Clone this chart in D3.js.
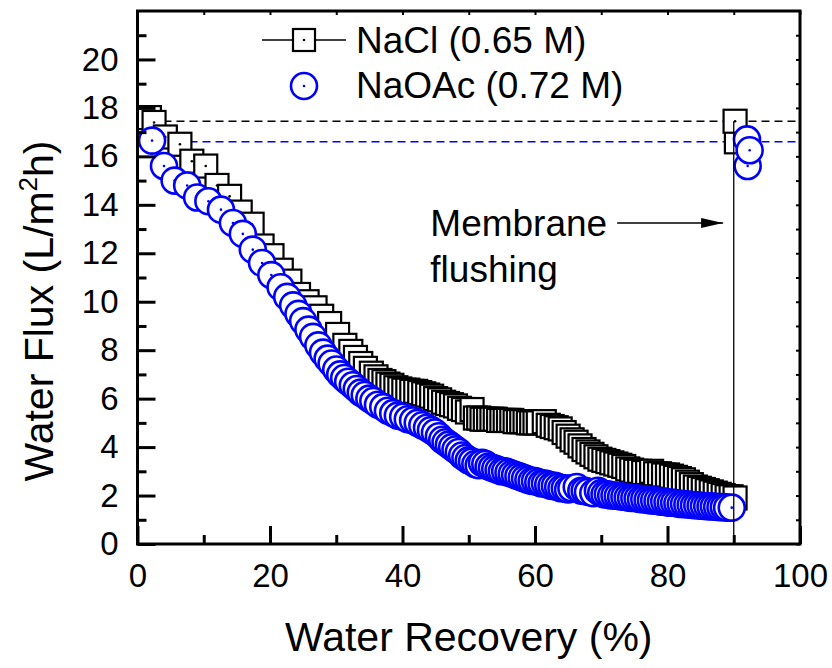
<!DOCTYPE html>
<html>
<head>
<meta charset="utf-8">
<script src="https://cdn.jsdelivr.net/npm/d3@7/dist/d3.min.js"></script>
<style>
  html, body { margin: 0; padding: 0; background: #fff; }
  svg { display: block; }
  text { font-family: "Liberation Sans", Arial, Helvetica, sans-serif; fill: #000; }
</style>
</head>
<body>
<svg id="chart" width="832" height="668"></svg>
<script>
// ---------------- data ----------------
const seriesNames = ["NaCl (0.65 M)", "NaOAc (0.72 M)"];

// NaCl draw solution: [water recovery %, water flux L/m2h]
const naclRecovery = [1.8,2.5,4.2,6.4,8.2,10.3,12.0,13.9,15.5,17.3,18.8,20.3,21.7,23.0,24.3,25.6,26.8,27.8,29.0,30.2,31.3,32.2,32.9,33.7,34.4,35.3,36.0,36.6,37.2,37.8,38.4,39.0,39.6,40.2,40.8,41.4,42.0,42.6,43.2,43.8,44.4,45.0,45.6,46.2,46.8,47.4,48.0,48.6,49.2,49.8,50.5,51.0,51.5,52.0,52.5,53.0,53.5,54.0,54.5,55.0,55.5,56.0,56.5,57.0,57.5,58.0,58.5,59.0,59.5,60.0,60.5,61.4,62.0,62.6,63.2,63.8,64.4,65.0,65.6,66.2,66.8,67.4,68.0,68.6,69.2,69.8,70.4,71.0,71.6,72.2,72.8,73.4,74.0,74.6,75.2,75.8,76.4,77.0,77.6,78.2,78.8,79.4,80.0,80.6,81.2,81.8,82.4,83.0,83.6,84.2,84.8,85.4,86.0,86.6,87.2,87.8,88.4,89.0,89.6,90.2];
const naclFlux = [17.6,17.4,16.8,16.5,15.8,15.6,14.8,14.35,13.7,13.2,12.3,11.9,11.3,10.85,10.3,10.0,9.75,9.4,9.1,8.65,8.2,7.95,7.7,7.45,7.25,7.05,6.9,6.75,6.7,6.6,6.55,6.45,6.4,6.35,6.35,6.3,6.3,6.25,6.2,6.15,6.1,6.0,5.95,5.85,5.8,5.75,5.7,5.6,5.55,5.45,5.55,5.2,5.2,5.15,5.15,5.15,5.15,5.15,5.1,5.1,5.1,5.1,5.1,5.05,5.05,5.05,5.05,5.0,5.0,5.0,5.0,5.05,4.9,4.85,4.8,4.75,4.6,4.45,4.3,4.2,4.05,3.9,3.8,3.7,3.6,3.5,3.45,3.4,3.35,3.3,3.25,3.2,3.1,3.05,3.0,3.0,2.95,2.95,3.0,2.9,2.9,2.85,2.85,2.8,2.75,2.7,2.65,2.55,2.45,2.35,2.3,2.25,2.2,2.15,2.1,2.05,2.0,1.95,1.95,1.9];
// NaCl after membrane flushing
const naclFlushRecovery = [90.4, 90.2];
const naclFlushFlux = [16.6, 17.45];

// NaOAc draw solution
const naoacRecovery = [2.2,4.0,5.6,7.5,9.0,10.7,12.6,14.4,15.9,17.4,18.8,20.2,21.6,22.6,23.5,24.3,25.0,25.8,26.5,27.3,28.0,28.7,29.3,30.0,30.6,31.2,31.8,32.5,33.1,33.7,34.3,35.0,35.6,36.3,37.1,37.8,38.6,39.3,40.1,40.8,41.6,42.3,43.0,43.7,44.3,44.9,45.5,46.0,46.5,47.0,47.5,48.0,48.5,49.0,49.5,50.0,50.5,51.0,51.5,52.0,52.5,53.0,53.5,54.0,54.5,55.0,55.5,56.0,56.5,57.0,57.5,58.0,58.5,59.0,59.5,60.0,60.5,61.0,61.5,62.0,62.5,63.0,63.5,64.0,64.5,65.0,65.5,66.3,67.0,67.5,68.0,68.8,69.5,70.0,70.5,71.0,71.5,72.0,72.5,73.0,73.5,74.0,74.5,75.0,75.5,76.0,76.5,77.0,77.5,78.0,78.5,79.0,79.5,80.0,80.5,81.0,81.5,82.0,82.5,83.0,83.5,84.0,84.5,85.0,85.5,86.0,86.5,87.0,87.5,88.0,88.5,89.0,89.7];
const naoacFlux = [16.65,15.6,15.0,14.8,14.3,14.15,13.8,13.25,12.8,12.15,11.6,11.1,10.6,10.2,9.85,9.5,9.2,8.85,8.55,8.2,7.9,7.65,7.45,7.2,7.0,6.85,6.7,6.55,6.4,6.25,6.15,6.0,5.9,5.75,5.65,5.5,5.4,5.3,5.25,5.15,5.1,5.0,4.9,4.8,4.7,4.6,4.45,4.3,4.2,4.1,4.0,3.9,3.8,3.65,3.55,3.45,3.4,3.3,3.25,3.35,3.3,3.2,3.15,3.1,3.05,3.0,3.0,2.95,2.9,2.85,2.8,2.75,2.7,2.65,2.6,2.6,2.55,2.5,2.5,2.45,2.4,2.4,2.35,2.3,2.3,2.25,2.3,2.35,2.2,2.2,2.15,2.1,2.2,2.1,2.05,2.05,2.0,2.0,1.98,1.95,1.95,1.92,1.9,1.9,1.88,1.85,1.85,1.82,1.8,1.8,1.78,1.75,1.75,1.72,1.7,1.7,1.68,1.65,1.65,1.63,1.62,1.6,1.6,1.58,1.57,1.56,1.55,1.55,1.53,1.52,1.52,1.5,1.5];
// NaOAc after membrane flushing
const naoacFlushRecovery = [92.0, 92.1, 92.4];
const naoacFlushFlux = [16.7, 15.6, 16.25];

// Initial flux reference levels (dashed) and flushing marker
const initialFlux = [17.45, 16.6];
const flushRecovery = 90;

// Axes
const xTicks = [0, 20, 40, 60, 80, 100];
const xMinorTicks = [10, 30, 50, 70, 90];
const yTicks = [0, 2, 4, 6, 8, 10, 12, 14, 16, 18, 20];
const yMinorTicks = [1, 3, 5, 7, 9, 11, 13, 15, 17, 19, 21];
const xLabel = "Water Recovery (%)";
const annotationLines = ["Membrane", "flushing"];

// ---------------- chart ----------------
const svg = d3.select("#chart");
const L = 137.5, R = 800, T = 11, B = 544;
const x = d3.scaleLinear().domain([0, 100]).range([L, R]);
const y = d3.scaleLinear().domain([0, 22]).range([B, T]);

const FONT = '"Liberation Sans", Arial, Helvetica, sans-serif';
const blue = "#0000ff";

// dashed initial flux lines (behind markers)
svg.append("g").selectAll("line").data(initialFlux).join("line")
  .attr("x1", x(0)).attr("x2", x(100))
  .attr("y1", d => y(d)).attr("y2", d => y(d))
  .attr("stroke", (d, i) => i === 0 ? "#000" : blue)
  .attr("stroke-width", 1.5)
  .attr("stroke-dasharray", "8,5");

// squares
const sq = 23;
const naclData = naclRecovery.map((v, i) => [v, naclFlux[i]])
  .concat(naclFlushRecovery.map((v, i) => [v, naclFlushFlux[i]]));
const gS = svg.append("g");
naclData.forEach(d => {
  gS.append("rect")
    .attr("x", x(d[0]) - sq / 2).attr("y", y(d[1]) - sq / 2)
    .attr("width", sq).attr("height", sq)
    .attr("fill", "#fff").attr("stroke", "#000").attr("stroke-width", 2.2);
  gS.append("circle").attr("cx", x(d[0])).attr("cy", y(d[1])).attr("r", 1.3).attr("fill", "#000");
});

// circles
const cr = 13;
const naoacData = naoacRecovery.map((v, i) => [v, naoacFlux[i]])
  .concat(naoacFlushRecovery.map((v, i) => [v, naoacFlushFlux[i]]));
const gC = svg.append("g");
naoacData.forEach(d => {
  gC.append("circle")
    .attr("cx", x(d[0])).attr("cy", y(d[1])).attr("r", cr)
    .attr("fill", "#fff").attr("stroke", blue).attr("stroke-width", 2.6);
  gC.append("circle").attr("cx", x(d[0])).attr("cy", y(d[1])).attr("r", 1.3).attr("fill", blue);
});

// flushing vertical line
svg.append("line")
  .attr("x1", x(flushRecovery)).attr("x2", x(flushRecovery))
  .attr("y1", y(0)).attr("y2", y(initialFlux[0]))
  .attr("stroke", "#000").attr("stroke-width", 1.3);

// axes
function styleAxis(g) {
  g.select(".domain").remove();
  g.selectAll(".tick line").attr("stroke", "#000").attr("stroke-width", 3);
  g.selectAll(".tick text").attr("font-family", FONT).attr("font-size", 33).attr("fill", "#000");
}
svg.append("g").attr("transform", `translate(0,${B})`)
  .call(d3.axisBottom(x).tickValues(xTicks).tickSize(-18).tickPadding(20).tickFormat(d3.format("d")))
  .call(styleAxis);
svg.append("g").attr("transform", `translate(0,${B})`)
  .call(d3.axisBottom(x).tickValues(xMinorTicks).tickSize(-9).tickFormat(""))
  .call(styleAxis);
svg.append("g").attr("transform", `translate(${L},0)`)
  .call(d3.axisLeft(y).tickValues(yTicks).tickSize(-18).tickPadding(19).tickFormat(d3.format("d")))
  .call(styleAxis);
svg.append("g").attr("transform", `translate(${L},0)`)
  .call(d3.axisLeft(y).tickValues(yMinorTicks).tickSize(-9).tickFormat(""))
  .call(styleAxis);
// top and right small ticks
svg.append("g").attr("transform", `translate(0,${T})`)
  .call(d3.axisTop(x).tickValues(xTicks.concat(xMinorTicks)).tickSize(-4).tickFormat(""))
  .call(g => { g.select(".domain").remove(); g.selectAll(".tick line").attr("stroke", "#000").attr("stroke-width", 2); });
svg.append("g").attr("transform", `translate(${R},0)`)
  .call(d3.axisRight(y).tickValues(yTicks.concat(yMinorTicks)).tickSize(-4).tickFormat(""))
  .call(g => { g.select(".domain").remove(); g.selectAll(".tick line").attr("stroke", "#000").attr("stroke-width", 2); });

// frame
svg.append("rect").attr("x", L).attr("y", T).attr("width", R - L).attr("height", B - T)
  .attr("fill", "none").attr("stroke", "#000").attr("stroke-width", 3);

// axis titles
svg.append("text").attr("x", (L + R) / 2).attr("y", 651)
  .attr("text-anchor", "middle").attr("font-size", 41).text(xLabel);
const yt = svg.append("text")
  .attr("transform", "translate(53,311) rotate(-90)")
  .attr("text-anchor", "middle").attr("font-size", 41);
yt.append("tspan").text("Water Flux (L/m");
yt.append("tspan").attr("font-size", 26).attr("dy", -16).text("2");
yt.append("tspan").attr("dy", 16).text("h)");

// legend
const lg = svg.append("g");
lg.append("line").attr("x1", 262).attr("x2", 346).attr("y1", 40).attr("y2", 40)
  .attr("stroke", "#000").attr("stroke-width", 1.5);
lg.append("rect").attr("x", 304 - 11).attr("y", 40 - 11).attr("width", 22).attr("height", 22)
  .attr("fill", "#fff").attr("stroke", "#000").attr("stroke-width", 2.2);
lg.append("circle").attr("cx", 304).attr("cy", 40).attr("r", 1.3).attr("fill", "#000");
lg.append("circle").attr("cx", 304).attr("cy", 86).attr("r", 13)
  .attr("fill", "#fff").attr("stroke", blue).attr("stroke-width", 2.6);
lg.append("circle").attr("cx", 304).attr("cy", 86).attr("r", 1.3).attr("fill", blue);
lg.append("text").attr("x", 356).attr("y", 53).attr("font-size", 37).text(seriesNames[0]);
lg.append("text").attr("x", 356).attr("y", 98).attr("font-size", 37).text(seriesNames[1]);

// annotation
svg.append("defs").append("marker").attr("id", "arrow")
  .attr("viewBox", "0 0 22 10").attr("refX", 22).attr("refY", 5)
  .attr("markerWidth", 22).attr("markerHeight", 10).attr("markerUnits", "userSpaceOnUse")
  .attr("orient", "auto")
  .append("path").attr("d", "M0,0 L22,5 L0,10 Z").attr("fill", "#000");
svg.append("line")
  .attr("x1", x(72.4)).attr("x2", x(88.4)).attr("y1", y(13.25)).attr("y2", y(13.25))
  .attr("stroke", "#000").attr("stroke-width", 1.5).attr("marker-end", "url(#arrow)");
svg.append("text").attr("font-size", 37)
  .selectAll("tspan").data(annotationLines).join("tspan")
  .attr("x", x(44.2)).attr("y", (d, i) => 236 + i * 46).text(d => d);
</script>
</body>
</html>
